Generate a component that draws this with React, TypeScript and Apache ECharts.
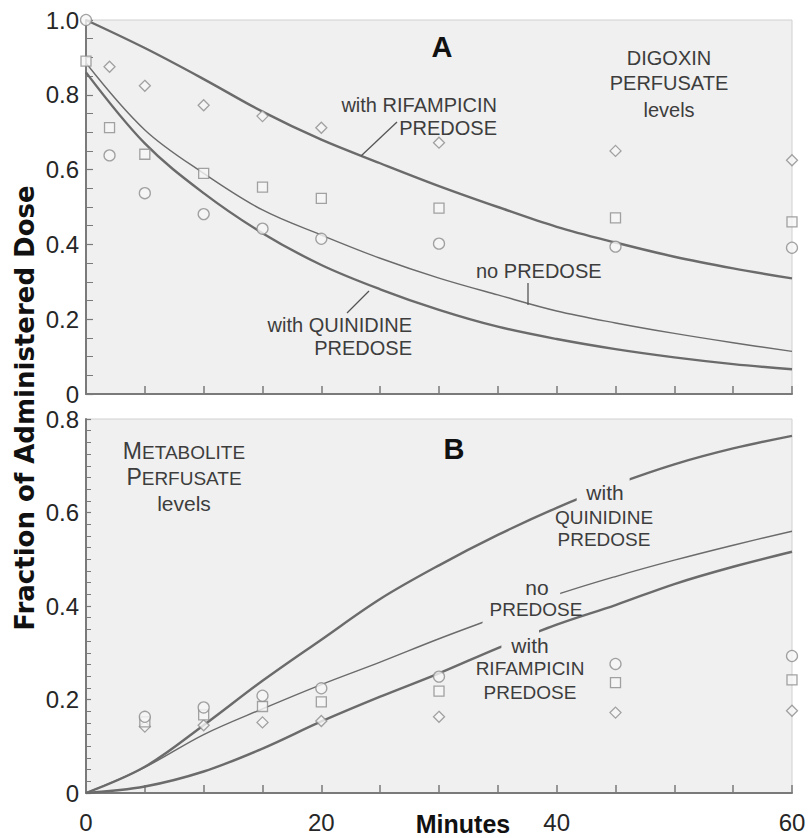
import React, { useEffect, useRef } from "react";
import * as echarts from "echarts";

// Model curves are sampled every 5 minutes
const MINUTES = [0, 5, 10, 15, 20, 25, 30, 35, 40, 45, 50, 55, 60];

// Panel A: digoxin perfusate levels (fraction of dose)
const A_RIFAMPICIN_CURVE = [1.0, 0.925, 0.842, 0.755, 0.68, 0.617, 0.556, 0.5, 0.447, 0.405, 0.367, 0.336, 0.309];
const A_NO_PREDOSE_CURVE = [0.885, 0.706, 0.59, 0.492, 0.425, 0.363, 0.31, 0.265, 0.222, 0.19, 0.162, 0.137, 0.114];
const A_QUINIDINE_CURVE = [0.86, 0.67, 0.537, 0.43, 0.345, 0.28, 0.225, 0.18, 0.147, 0.12, 0.098, 0.08, 0.066];

const A_SAMPLE_MINUTES = [0, 2, 5, 10, 15, 20, 30, 45, 60];
const A_QUINIDINE_OBS = [1.0, 0.638, 0.537, 0.481, 0.442, 0.415, 0.402, 0.394, 0.391];
const A_NO_PREDOSE_OBS = [0.89, 0.712, 0.641, 0.59, 0.553, 0.523, 0.497, 0.471, 0.46];
const A_RIFAMPICIN_OBS = [null, 0.875, 0.824, 0.772, 0.743, 0.712, 0.672, 0.65, 0.625];

// Panel B: metabolite perfusate levels (fraction of dose)
const B_QUINIDINE_CURVE = [0, 0.056, 0.145, 0.24, 0.328, 0.415, 0.487, 0.552, 0.61, 0.66, 0.703, 0.737, 0.764];
const B_NO_PREDOSE_CURVE = [0, 0.055, 0.125, 0.18, 0.232, 0.28, 0.33, 0.377, 0.424, 0.463, 0.498, 0.53, 0.56];
const B_RIFAMPICIN_CURVE = [0, 0.014, 0.046, 0.095, 0.153, 0.206, 0.256, 0.31, 0.36, 0.402, 0.447, 0.484, 0.516];

const B_SAMPLE_MINUTES = [5, 10, 15, 20, 30, 45, 60];
const B_QUINIDINE_OBS = [0.163, 0.183, 0.208, 0.224, 0.249, 0.276, 0.293];
const B_NO_PREDOSE_OBS = [0.152, 0.167, 0.185, 0.195, 0.218, 0.236, 0.242];
const B_RIFAMPICIN_OBS = [0.142, 0.145, 0.151, 0.154, 0.163, 0.172, 0.176];

// Stretches (minutes) where the panel B curves pass behind their labels
const B_LABEL_GAPS: [number[], number, number][] = [
  [B_QUINIDINE_CURVE, 41.7, 46.2],
  [B_NO_PREDOSE_CURVE, 33.7, 40.3],
  [B_RIFAMPICIN_CURVE, 35.3, 38.5],
];

const X_TICK_LABELS = ["0", "20", "40", "60"];

const FONT = "'Liberation Sans', Arial, Helvetica, sans-serif";
const TITLE_FONT = "'DejaVu Sans', 'Liberation Sans', Arial, sans-serif";
const PLOT_BG = "#f0f0f0";
const AXIS_COLOR = "#7a7a7a";
const CURVE_COLOR = "#6b6b6b";
const MARK_COLOR = "#8c8c8c";
const NOTE_COLOR = "#3d3d3d";

const pairs = (xs: number[], ys: (number | null)[]) =>
  xs.map((x, i) => [x, ys[i]]).filter((p) => p[1] !== null);

const valueAt = (ys: number[], t: number) => {
  const i = Math.min(Math.floor(t / 5), MINUTES.length - 2);
  const f = (t - MINUTES[i]) / (MINUTES[i + 1] - MINUTES[i]);
  return ys[i] + (ys[i + 1] - ys[i]) * f;
};

function xAxis(gridIndex: number, labelled: boolean) {
  return {
    type: "value",
    gridIndex,
    min: 0,
    max: 60,
    interval: 5,
    axisLine: { show: true, onZero: false, lineStyle: { color: AXIS_COLOR, width: 2 } },
    axisTick: { show: true, inside: true, length: 8, lineStyle: { color: AXIS_COLOR, width: 1.5 } },
    splitLine: { show: false },
    axisLabel: {
      show: labelled,
      margin: 17,
      fontSize: 24,
      fontFamily: FONT,
      color: "#262626",
      formatter: (v: number) => (X_TICK_LABELS.includes(String(v)) ? String(v) : ""),
    },
  };
}

function yAxis(gridIndex: number, max: number, minorSplit: number, tickLen: number) {
  return {
    type: "value",
    gridIndex,
    min: 0,
    max,
    interval: 0.2,
    axisLine: { show: true, onZero: false, lineStyle: { color: AXIS_COLOR, width: 2 } },
    axisTick: { show: true, inside: true, length: tickLen, lineStyle: { color: AXIS_COLOR, width: 1.2 } },
    minorTick: { show: true, splitNumber: minorSplit, length: tickLen, lineStyle: { color: AXIS_COLOR, width: 1 } },
    splitLine: { show: false },
    minorSplitLine: { show: false },
    axisLabel: {
      margin: 7,
      fontSize: 24,
      fontFamily: FONT,
      color: "#262626",
      formatter: (v: number) => (v === 0 ? "0" : v.toFixed(1)),
    },
  };
}

function curve(idx: number, ys: number[], width: number) {
  return {
    type: "line",
    xAxisIndex: idx,
    yAxisIndex: idx,
    data: pairs(MINUTES, ys),
    smooth: 0.35,
    showSymbol: false,
    silent: true,
    z: 2,
    lineStyle: { color: CURVE_COLOR, width },
  };
}

function marks(idx: number, xs: number[], ys: (number | null)[], symbol: string, size: number) {
  return {
    type: "scatter",
    xAxisIndex: idx,
    yAxisIndex: idx,
    data: pairs(xs, ys),
    symbol,
    symbolSize: size,
    clip: false,
    z: 3,
    itemStyle: { color: "#f6f6f6", borderColor: MARK_COLOR, borderWidth: 1.3 },
  };
}

function note(text: string, x: number, y: number, align = "center", size = 20, color = NOTE_COLOR, weight = "normal") {
  return {
    type: "text",
    x,
    y,
    z: 120,
    silent: true,
    style: {
      text,
      fill: color,
      font: `${weight} ${size}px ${FONT}`,
      align,
      verticalAlign: "middle",
      textAlign: align,
      textVerticalAlign: "middle",
    },
  };
}

function leader(x1: number, y1: number, x2: number, y2: number) {
  return {
    type: "line",
    z: 110,
    silent: true,
    shape: { x1, y1, x2, y2 },
    style: { stroke: "#555555", lineWidth: 1.3 },
  };
}

export default function App() {
  const ref = useRef<HTMLDivElement>(null);

  useEffect(() => {
    if (!ref.current) return;
    const chart = echarts.init(ref.current, undefined, { renderer: "svg" });

    chart.setOption({
      animation: false,
      backgroundColor: "#ffffff",
      grid: [
        { left: 86, top: 20, width: 706, height: 374, show: true, backgroundColor: PLOT_BG, borderColor: "#d0d0d0", borderWidth: 1 },
        { left: 86, top: 419, width: 706, height: 374, show: true, backgroundColor: PLOT_BG, borderColor: "#d0d0d0", borderWidth: 1 },
      ],
      xAxis: [xAxis(0, false), xAxis(1, true)],
      yAxis: [yAxis(0, 1.0, 4, 7), yAxis(1, 0.8, 8, 5)],
      series: [
        curve(0, A_RIFAMPICIN_CURVE, 2.4),
        curve(0, A_NO_PREDOSE_CURVE, 1.4),
        curve(0, A_QUINIDINE_CURVE, 2.4),
        marks(0, A_SAMPLE_MINUTES, A_QUINIDINE_OBS, "circle", 11),
        marks(0, A_SAMPLE_MINUTES, A_NO_PREDOSE_OBS, "rect", 10),
        marks(0, A_SAMPLE_MINUTES, A_RIFAMPICIN_OBS, "diamond", 11),
        curve(1, B_QUINIDINE_CURVE, 2.4),
        curve(1, B_NO_PREDOSE_CURVE, 1.4),
        curve(1, B_RIFAMPICIN_CURVE, 2.4),
        marks(1, B_SAMPLE_MINUTES, B_RIFAMPICIN_OBS, "diamond", 11),
        marks(1, B_SAMPLE_MINUTES, B_NO_PREDOSE_OBS, "rect", 10),
        marks(1, B_SAMPLE_MINUTES, B_QUINIDINE_OBS, "circle", 11),
      ],
    });

    // Short plot-coloured bands interrupt the panel B curves under their labels
    const masks = B_LABEL_GAPS.map(([ys, t1, t2]) => {
      const p1 = chart.convertToPixel({ gridIndex: 1 }, [t1, valueAt(ys, t1)]) as number[];
      const p2 = chart.convertToPixel({ gridIndex: 1 }, [t2, valueAt(ys, t2)]) as number[];
      const h = 6;
      return {
        type: "polygon",
        z: 100,
        silent: true,
        shape: { points: [[p1[0], p1[1] - h], [p2[0], p2[1] - h], [p2[0], p2[1] + h], [p1[0], p1[1] + h]] },
        style: { fill: PLOT_BG },
      };
    });

    chart.setOption({
      graphic: [
        ...masks,
        // axis titles
        {
          type: "text",
          x: 25,
          y: 408,
          rotation: Math.PI / 2,
          z: 120,
          style: {
            text: "Fraction of Administered Dose",
            fill: "#111111",
            font: `bold 26px ${TITLE_FONT}`,
            align: "center",
            verticalAlign: "middle",
            textAlign: "center",
            textVerticalAlign: "middle",
          },
        },
        note("Minutes", 463, 824, "center", 25, "#111111", "bold"),
        // panel letters
        note("A", 442, 47, "center", 29, "#111111", "bold"),
        note("B", 454, 449, "center", 29, "#111111", "bold"),
        // panel A annotations
        note("DIGOXIN", 669, 58),
        note("PERFUSATE", 669, 83),
        note("levels", 669, 110),
        note("with RIFAMPICIN", 497, 105, "right"),
        note("PREDOSE", 497, 128, "right"),
        leader(361, 156, 397, 122),
        note("no PREDOSE", 476, 271, "left"),
        leader(528, 283, 528, 305),
        note("with QUINIDINE", 412, 325, "right"),
        note("PREDOSE", 412, 348, "right"),
        leader(369, 291, 347, 313),
        // panel B annotations
        {
          type: "text",
          x: 184,
          y: 475,
          z: 120,
          style: {
            text: "{c|M}{s|ETABOLITE}\n{c|P}{s|ERFUSATE}\n{l|levels}",
            align: "center",
            verticalAlign: "middle",
            textAlign: "center",
            textVerticalAlign: "middle",
            rich: {
              c: { font: `23px ${FONT}`, fill: NOTE_COLOR, lineHeight: 26, verticalAlign: "bottom" },
              s: { font: `19px ${FONT}`, fill: NOTE_COLOR, lineHeight: 26, verticalAlign: "bottom" },
              l: { font: `21px ${FONT}`, fill: NOTE_COLOR, lineHeight: 26, verticalAlign: "bottom" },
            },
          },
        },
        note("with", 605, 492, "center", 21),
        note("QUINIDINE", 604, 517, "center", 19),
        note("PREDOSE", 604, 539, "center", 19),
        note("no", 537, 587, "center", 21),
        note("PREDOSE", 536, 609, "center", 19),
        note("with", 530, 645, "center", 21),
        note("RIFAMPICIN", 530, 668, "center", 19),
        note("PREDOSE", 530, 692, "center", 19),
      ],
    });

    return () => chart.dispose();
  }, []);

  return <div ref={ref} style={{ position: "absolute", left: 0, top: 0, width: 812, height: 838 }} />;
}
